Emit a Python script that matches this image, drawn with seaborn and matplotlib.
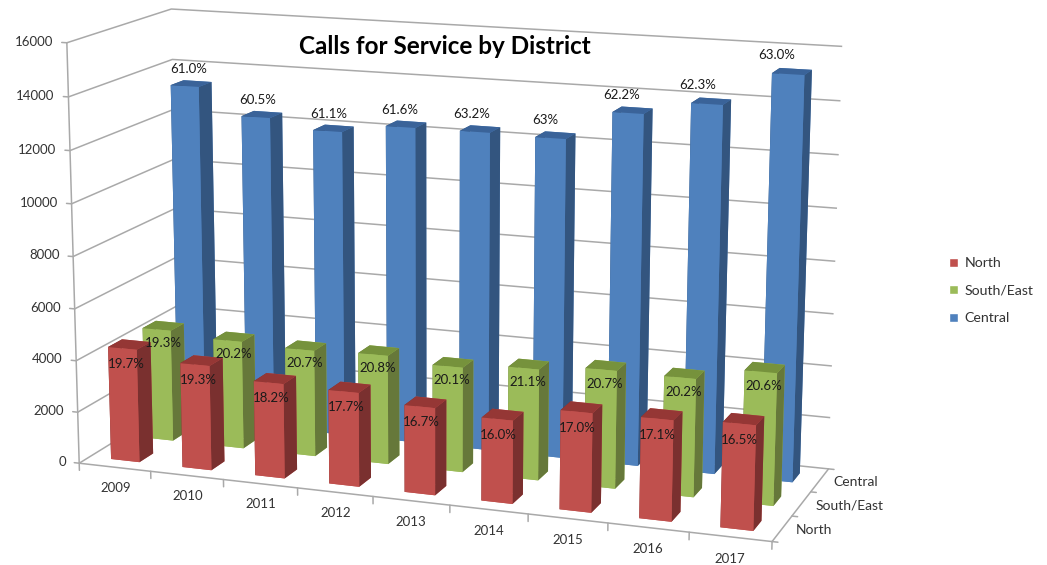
import matplotlib
matplotlib.use("Agg")
import matplotlib.pyplot as plt
from matplotlib.patches import Patch
from mpl_toolkits.mplot3d import proj3d
import seaborn as sns

years = ["2009", "2010", "2011", "2012", "2013", "2014", "2015", "2016", "2017"]
districts = ["North", "South/East", "Central"]

north = [4390, 4040, 3630, 3580, 3300, 3130, 3700, 3740, 3860]
south_east = [4390, 4220, 4140, 4220, 4040, 4250, 4480, 4460, 4960]
central = [13370, 12340, 11990, 12340, 12350, 12310, 13440, 13960, 15230]

north_pct = ["19.7%", "19.3%", "18.2%", "17.7%", "16.7%", "16.0%", "17.0%", "17.1%", "16.5%"]
south_east_pct = ["19.3%", "20.2%", "20.7%", "20.8%", "20.1%", "21.1%", "20.7%", "20.2%", "20.6%"]
central_pct = ["61.0%", "60.5%", "61.1%", "61.6%", "63.2%", "63%", "62.2%", "62.3%", "63.0%"]

z_ticks = [0, 2000, 4000, 6000, 8000, 10000, 12000, 14000, 16000]

# front, top, side colours of each district
front_colors = sns.color_palette(["#C0504D", "#9BBB59", "#4F81BD"])
top_colors = ["#953735", "#76923C", "#3A6399"]
side_colors = ["#7A302F", "#66783A", "#33557F"]
line_color = "#A9A9A9"
text_color = "#333333"

sns.set_theme(style="white")
plt.rcParams["font.family"] = ["Lato", "DejaVu Sans"]

W, H = 1047, 565
fig = plt.figure(figsize=(W / 100, H / 100), dpi=100)
ax = fig.add_subplot(projection="3d", computed_zorder=False)

# camera fitted to the corners of the box in the reference
ax.set_xlim(0, len(years))
ax.set_ylim(0, len(districts))
ax.set_zlim(0, z_ticks[-1])
ax.view_init(elev=13.29, azim=-70.32, roll=-0.08)
ax.set_proj_type("persp", focal_length=0.634)
ax.set_box_aspect((1, 0.3346, 0.5989))

# place the axes so one projected unit is this many pixels
scale, tx, ty = 4600.3, 453.2, 258.9
lim = ax.viewLim
ax.set_position([(tx + scale * lim.x0) / W, (H - ty + scale * lim.y0) / H,
                 scale * lim.width / W, scale * lim.height / H])
proj = ax.get_proj()


def label3d(x, y, z, s, **kw):
    # text at a 3d spot, drawn as plain 2d text
    px, py, _ = proj3d.proj_transform(x, y, z, proj)
    ax.text2D(px, py, s, transform=ax.transData, va="center", zorder=300, **kw)


# walls without border, only the horizontal grid lines
for axis in (ax.xaxis, ax.yaxis, ax.zaxis):
    axis.set_pane_color("white")
    axis.pane.set_edgecolor("none")
    axis._axinfo["grid"].update(color=line_color, linewidth=1.1, linestyle="-")
ax.grid(True)
ax.set_xticks([])
ax.set_yticks([])
ax.set_zticks(z_ticks)
ax.set_zticklabels([])
ax.zaxis._axinfo["tick"].update(inward_factor=0, outward_factor=0)
ax.zaxis.line.set_color("none")
ax.xaxis.line.set_color(line_color)
ax.yaxis.line.set_color(line_color)
ax.xaxis.line.set_linewidth(1.1)
ax.yaxis.line.set_linewidth(1.1)

frame = dict(color=line_color, lw=1.1, zorder=0.5)
ax.plot([0, 0], [0, 0], [0, z_ticks[-1]], **frame)
for z in z_ticks:
    ax.plot([-0.07, 0], [0, 0], [z, z], **frame)
    label3d(-0.19, 0, z, str(z), ha="right", fontsize=9.5, color=text_color)
for i in range(len(years) + 1):
    ax.plot([i, i], [0, 0], [0, -280], **frame)
for j in range(len(districts) + 1):
    ax.plot([len(years), len(years) + 0.07], [j, j], [0, 0], **frame)

for i, year in enumerate(years):
    label3d(i + 0.5, 0, -800, year, ha="center", fontsize=9.5, color=text_color)
for j, name in enumerate(districts):
    label3d(len(years) + 0.17, j + 0.5, 0, name, ha="left", fontsize=10, color=text_color)

# back row first, left to right, so nearer bars cover the others
series = [north, south_east, central]
labels = [north_pct, south_east_pct, central_pct]
order = 1
for j in [2, 1, 0]:
    f, t, s = front_colors[j], top_colors[j], side_colors[j]
    for i, value in enumerate(series[j]):
        ax.bar3d(i + 0.3, j + 0.3, 0, 0.4, 0.4, value, color=[f, t, f, f, s, s],
                 shade=False, linewidth=0, zorder=order)
        order += 1

# label offsets per district: along the years and up the value axis
label_x = [0.45, 0.49, 0.47]
label_drift = [0, 0, -0.02]
label_z = [-770, -700, 550]
for j in range(3):
    for i, value in enumerate(series[j]):
        label3d(i + label_x[j] + label_drift[j] * i, j + 0.5, value + label_z[j], labels[j][i],
                ha="center", fontsize=9.5, color="#1a1a1a")

fig.text(445 / W, 1 - 47 / H, "Calls for Service by District", ha="center", va="center",
         fontsize=17.5, fontweight="bold", color="black")

handles = [Patch(facecolor=c, label=n) for c, n in zip(front_colors, districts)]
fig.legend(handles=handles, loc="upper left", bbox_to_anchor=(949 / W, 1 - 257 / H), frameon=False,
           fontsize=10.2, handlelength=0.6, handleheight=0.6, handletextpad=0.5,
           labelspacing=1.1, borderpad=0, borderaxespad=0, labelcolor=text_color)

fig.savefig("out.png", dpi=100)
